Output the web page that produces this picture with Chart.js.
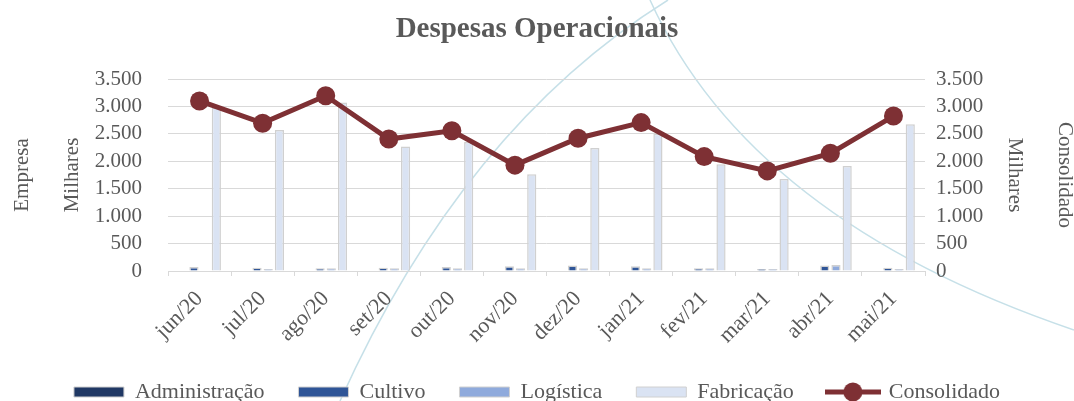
<!DOCTYPE html>
<html>
<head>
<meta charset="utf-8">
<script src="https://cdn.jsdelivr.net/npm/chart.js@4.4.0/dist/chart.umd.min.js"></script>
<style>
html, body { margin: 0; padding: 0; background: #fff; }
#wrap { width: 1074px; height: 401px; }
</style>
</head>
<body>
<div id="wrap"><canvas id="despesasChart"></canvas></div>
<script>
// dados (valores em milhares)
var meses = ['jun/20', 'jul/20', 'ago/20', 'set/20', 'out/20', 'nov/20', 'dez/20', 'jan/21', 'fev/21', 'mar/21', 'abr/21', 'mai/21'];
var administracao = [10, 10, 10, 10, 10, 10, 10, 10, 10, 10, 10, 10];
var cultivo = [75, 60, 50, 60, 75, 85, 100, 85, 50, 35, 100, 60];
var logistica = [10, 35, 50, 50, 50, 50, 50, 50, 50, 35, 110, 35];
var fabricacao = [2980, 2570, 3070, 2270, 2350, 1765, 2240, 2500, 1945, 1675, 1915, 2675];
var consolidado = [3100, 2695, 3195, 2405, 2555, 1930, 2420, 2705, 2085, 1825, 2145, 2825];
var yTicks = [0, 500, 1000, 1500, 2000, 2500, 3000, 3500];

var cinza = '#595959';
var fonte = "'Liberation Serif', 'DejaVu Serif', serif";
var corLinha = '#7E3034';
var borda = '#D0D0D0';

function milhar(v) {
    return v.toString().replace(/\B(?=(\d{3})+(?!\d))/g, '.');
}

// marcador da legenda para a serie de linha
var marcaLinha = document.createElement('canvas');
marcaLinha.width = 56;
marcaLinha.height = 22;
(function () {
    var c = marcaLinha.getContext('2d');
    c.strokeStyle = corLinha;
    c.lineWidth = 5;
    c.beginPath();
    c.moveTo(0, 11);
    c.lineTo(56, 11);
    c.stroke();
    c.fillStyle = corLinha;
    c.beginPath();
    c.arc(28, 11, 9.5, 0, Math.PI * 2);
    c.fill();
})();

// fundo branco + curvas decorativas
var fundo = {
    id: 'fundo',
    beforeDraw: function (chart) {
        var c = chart.ctx;
        c.save();
        c.fillStyle = '#fff';
        c.fillRect(0, 0, chart.width, chart.height);
        c.strokeStyle = '#C6E0E8';
        c.lineWidth = 1.5;
        c.beginPath();
        c.moveTo(668, 0);
        c.quadraticCurveTo(463, 128, 340, 401);
        c.stroke();
        c.beginPath();
        c.moveTo(650, 0);
        c.quadraticCurveTo(750, 220, 1074, 330);
        c.stroke();
        c.restore();
    }
};

var ctx = document.getElementById('despesasChart').getContext('2d');
var despesasChart = new Chart(ctx, {
    data: {
        labels: meses,
        datasets: [
            { type: 'bar', label: 'Administração', data: administracao, backgroundColor: '#203864', borderColor: borda, borderWidth: 1.5, yAxisID: 'y', order: 1 },
            { type: 'bar', label: 'Cultivo', data: cultivo, backgroundColor: '#2F5597', borderColor: borda, borderWidth: 1.5, yAxisID: 'y', order: 1 },
            { type: 'bar', label: 'Logística', data: logistica, backgroundColor: '#8FAADC', borderColor: borda, borderWidth: 1.5, yAxisID: 'y', order: 1 },
            { type: 'bar', label: 'Fabricação', data: fabricacao, backgroundColor: '#DAE3F3', borderColor: borda, borderWidth: 1.5, yAxisID: 'y', order: 1 },
            { type: 'line', label: 'Consolidado', data: consolidado, borderColor: corLinha, backgroundColor: corLinha, borderWidth: 5, pointRadius: 9.5, pointHoverRadius: 9.5, pointBackgroundColor: corLinha, pointBorderWidth: 0, yAxisID: 'y1', order: 0 }
        ]
    },
    options: {
        responsive: true,
        maintainAspectRatio: false,
        animation: false,
        layout: { padding: { left: 0, right: 0, top: 0, bottom: -12 } },
        datasets: {
            bar: { categoryPercentage: 0.71, barPercentage: 0.82 }
        },
        scales: {
            x: {
                offset: true,
                grid: { offset: true, drawOnChartArea: false, drawTicks: true, tickLength: 5, color: '#D9D9D9' },
                border: { color: '#D9D9D9', width: 1 },
                ticks: { color: cinza, font: { family: fonte, size: 22 }, maxRotation: 45, minRotation: 45, padding: 10, autoSkip: false },
                afterFit: function (s) { s.height = 76; }
            },
            y: {
                position: 'left',
                min: 0, max: 3500,
                afterBuildTicks: function (s) { s.ticks = yTicks.map(function (v) { return { value: v }; }); },
                grid: { color: '#D9D9D9', drawTicks: false },
                border: { display: false },
                ticks: { color: cinza, font: { family: fonte, size: 21 }, padding: 26, autoSkip: false, callback: function (v) { return milhar(v); } },
                title: { display: true, text: ['Empresa', 'Milhares'], color: cinza, font: { family: fonte, size: 21, lineHeight: 2.4 }, padding: { top: -3, bottom: 0 } },
                afterFit: function (s) { s.width = 168; }
            },
            y1: {
                position: 'right',
                min: 0, max: 3500,
                afterBuildTicks: function (s) { s.ticks = yTicks.map(function (v) { return { value: v }; }); },
                grid: { drawOnChartArea: false, drawTicks: false },
                border: { display: false },
                ticks: { color: cinza, font: { family: fonte, size: 21 }, padding: 11, autoSkip: false, callback: function (v) { return milhar(v); } },
                title: { display: true, text: ['Consolidado', 'Milhares'], color: cinza, font: { family: fonte, size: 21, lineHeight: 2.4 }, padding: { top: -16, bottom: 0 } },
                afterFit: function (s) { s.width = 149; }
            }
        },
        plugins: {
            title: {
                display: true,
                text: 'Despesas Operacionais',
                color: cinza,
                font: { family: fonte, size: 29, weight: 'bold', lineHeight: 1.2 },
                padding: { top: 12.6, bottom: 31.6 }
            },
            legend: {
                position: 'bottom',
                labels: {
                    color: cinza,
                    font: { family: fonte, size: 22 },
                    usePointStyle: true,
                    pointStyleWidth: 50,
                    boxHeight: 10,
                    padding: 34,
                    sort: function (a, b) { return a.datasetIndex - b.datasetIndex; },
                    generateLabels: function (chart) {
                        var itens = Chart.defaults.plugins.legend.labels.generateLabels(chart);
                        itens.forEach(function (it) {
                            if (it.datasetIndex === 4) {
                                it.pointStyle = marcaLinha;
                            } else {
                                it.pointStyle = 'rect';
                                it.lineWidth = 1;
                                it.strokeStyle = borda;
                            }
                        });
                        return itens;
                    }
                }
            },
            tooltip: { enabled: false }
        }
    },
    plugins: [fundo]
});
</script>
</body>
</html>
